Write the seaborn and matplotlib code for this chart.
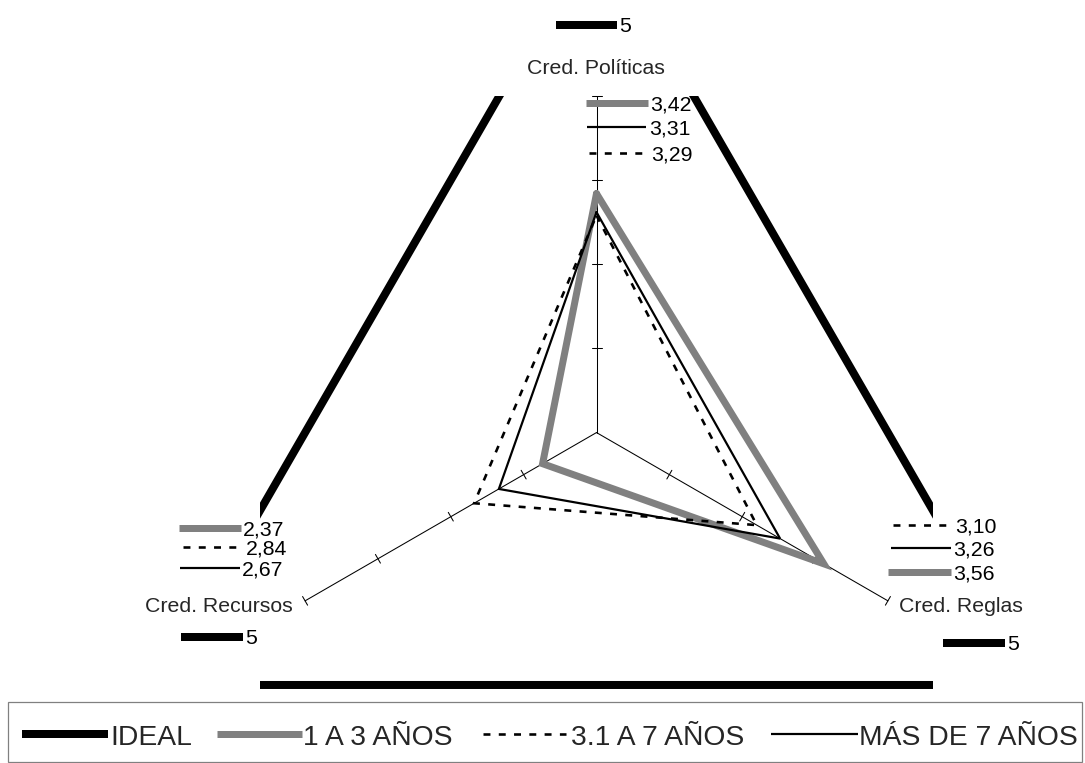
import numpy as np
import matplotlib
matplotlib.use("Agg")
import matplotlib.pyplot as plt
import seaborn as sns
from matplotlib.lines import Line2D
from matplotlib.patches import Rectangle

# ---- data -------------------------------------------------------------
categories = ["Cred. Políticas", "Cred. Reglas", "Cred. Recursos"]
series_names = ["IDEAL", "1 A 3 AÑOS", "3.1 A 7 AÑOS", "MÁS DE 7 AÑOS"]
ideal = [5, 5, 5]
anios_1_3 = [3.42, 3.56, 2.37]
anios_3_7 = [3.29, 3.10, 2.84]
anios_mas_7 = [3.31, 3.26, 2.67]
series_values = [ideal, anios_1_3, anios_3_7, anios_mas_7]

axis_min, axis_max, axis_step = 2.0, 4.0, 0.5

# ---- styles -----------------------------------------------------------
W, H = 1085, 763
PX = 0.72  # points per pixel at 100 dpi
styles = [
    dict(color="black", lw=8 * PX, ls="-"),
    dict(color="#808080", lw=7 * PX, ls="-"),
    dict(color="black", lw=2.6 * PX, ls=(0, (5, 6))),
    dict(color="black", lw=2.2 * PX, ls="-"),
]

sns.set_theme(style="white")
plt.rcParams["font.family"] = ["Liberation Sans", "DejaVu Sans"]
plt.rcParams["lines.scale_dashes"] = False

fig = plt.figure(figsize=(W / 100, H / 100), dpi=100)
fig.patch.set_facecolor("white")
ax = fig.add_axes([260 / W, 1 - 693.4 / H, 673 / W, 597.4 / H])
ax.set_xlim(-2.0, 2.0)
ax.set_ylim(-1.55, 2.0)
ax.axis("off")

angles = np.deg2rad([0, 120, 240])


def to_xy(values):
    r = np.asarray(values, dtype=float) - axis_min
    return r * np.sin(angles), r * np.cos(angles)


# radial axes with tick marks
span = axis_max - axis_min
for a in angles:
    ax.plot([0, span * np.sin(a)], [0, span * np.cos(a)], color="black",
            lw=0.75, clip_on=False, zorder=1)
    for v in np.arange(axis_min + axis_step, axis_max + 1e-9, axis_step):
        r = v - axis_min
        cx, cy = r * np.sin(a), r * np.cos(a)
        half = 5 / 168.25
        px_, py_ = np.cos(a) * half, -np.sin(a) * half
        ax.plot([cx - px_, cx + px_], [cy - py_, cy + py_], color="black",
                lw=0.75, clip_on=False, zorder=1)

# series polygons
for i, (name, vals) in enumerate(zip(series_names, series_values)):
    xs, ys = to_xy(vals)
    xs = np.append(xs, xs[0])
    ys = np.append(ys, ys[0])
    st = styles[i]
    sns.lineplot(x=xs, y=ys, sort=False, estimator=None, ax=ax,
                 color=st["color"], linewidth=st["lw"], linestyle=st["ls"],
                 zorder=2 + i, legend=False)
for line in ax.lines:
    line.set_solid_joinstyle("miter")
    line.set_dash_joinstyle("miter")


def fmt(v):
    return f"{v:g}" if float(v).is_integer() else f"{v:.2f}".replace(".", ",")


def fig_line(x0, x1, y, st):
    fig.add_artist(Line2D([x0 / W, x1 / W], [1 - y / H, 1 - y / H],
                          transform=fig.transFigure, color=st["color"],
                          lw=st["lw"], ls=st["ls"], solid_capstyle="butt",
                          dash_capstyle="butt"))


# value labels with keys: (series, key start, key end, row centre, text x)
label_layout = [
    [(0, 556, 617, 25, 619), (1, 586, 648, 103, 650),
     (3, 587, 646, 127, 649), (2, 589, 646, 153, 651)],
    [(2, 893, 950, 525, 955), (3, 891, 951, 548, 953),
     (1, 888, 951, 572, 953), (0, 943, 1005, 643, 1007)],
    [(1, 179, 241, 528, 243), (2, 183, 240, 547, 246),
     (3, 180, 240, 568, 242), (0, 181, 243, 637, 245)],
]
for cat_idx, rows in enumerate(label_layout):
    for s_idx, k0, k1, yc, tx in rows:
        fig_line(k0, k1, yc, styles[s_idx])
        fig.text(tx / W, 1 - (yc + 7.5) / H, fmt(series_values[s_idx][cat_idx]),
                 fontsize=15.3, ha="left", va="baseline", color="black")

name_pos = [(596, 74, "center"), (899, 612, "left"), (145, 612, "left")]
for name, (x, y, ha) in zip(categories, name_pos):
    fig.text(x / W, 1 - y / H, name, fontsize=15.3, ha=ha, va="baseline")

# legend box
fig.add_artist(Rectangle((8 / W, 1 - 762 / H), (1082 - 8) / W, 60 / H,
                         transform=fig.transFigure, fill=False,
                         edgecolor="#808080", lw=0.9))
legend_keys = [(22, 108, 110), (217, 302, 303), (483, 566, 571), (771, 858, 859)]
for i, (k0, k1, tx) in enumerate(legend_keys):
    fig_line(k0, k1, 734, styles[i])
    fig.text(tx / W, 1 - 745 / H, series_names[i], fontsize=20.3,
             ha="left", va="baseline")

fig.savefig("out.png", dpi=100)
